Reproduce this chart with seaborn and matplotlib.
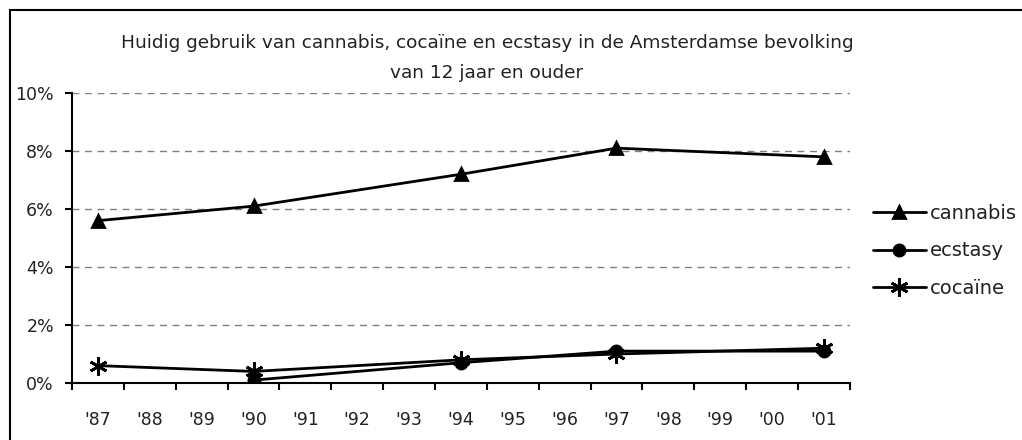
import matplotlib.pyplot as plt
import matplotlib.ticker as ticker
import matplotlib.patches as patches
import numpy as np
import pandas as pd
import seaborn as sns

# Year labels on the category axis
years = ["'87", "'88", "'89", "'90", "'91", "'92", "'93", "'94",
         "'95", "'96", "'97", "'98", "'99", "'00", "'01"]

# Survey years and current use (%)
cannabis_years = ["'87", "'90", "'94", "'97", "'01"]
cannabis = [5.6, 6.1, 7.2, 8.1, 7.8]

ecstasy_years = ["'90", "'94", "'97", "'01"]
ecstasy = [0.1, 0.7, 1.1, 1.1]

cocaine_years = ["'87", "'90", "'94", "'97", "'01"]
cocaine = [0.6, 0.4, 0.8, 1.0, 1.2]

series = [("cannabis", cannabis_years, cannabis, "^", 8),
          ("ecstasy", ecstasy_years, ecstasy, "o", 8),
          ("cocaïne", cocaine_years, cocaine, (6, 2, 0), 13)]

sns.set_style("white")
plt.rcParams["font.family"] = ["DejaVu Sans"]

fig = plt.figure(figsize=(10.22, 4.4), dpi=100)
ax = fig.add_axes([0.0705, 0.1295, 0.761, 0.659])

# outer chart frame
fig.patches.append(patches.Rectangle(
    (10 / 1022, -0.05), 1.1, 0.977 + 0.05, transform=fig.transFigure,
    fill=False, edgecolor="black", linewidth=1.5))

for name, yrs, vals, mk, ms in series:
    d = pd.DataFrame({"pos": [years.index(y) for y in yrs], "value": vals})
    sns.lineplot(data=d, x="pos", y="value", color="black", marker=mk,
                 markersize=ms, markeredgewidth=2, markeredgecolor="black",
                 markerfacecolor="black", linewidth=2, label=name, ax=ax)

ax.set_xlim(-0.5, len(years) - 0.5)
ax.set_ylim(0, 10)

for v in [2, 4, 6, 8, 10]:
    ax.axhline(v, color="#808080", linestyle=(0, (5, 4)), linewidth=1, zorder=0)

ax.xaxis.set_major_locator(ticker.FixedLocator(np.arange(-0.5, len(years), 1)))
ax.xaxis.set_major_formatter(ticker.NullFormatter())
ax.xaxis.set_minor_locator(ticker.FixedLocator(np.arange(len(years))))
ax.xaxis.set_minor_formatter(ticker.FixedFormatter(years))
ax.tick_params(axis="x", which="major", direction="out", length=5, width=1.5,
               bottom=True, color="black")
ax.tick_params(axis="x", which="minor", length=0, pad=20, labelsize=12.5,
               labelcolor="#222222")

ax.set_yticks([0, 2, 4, 6, 8, 10])
ax.yaxis.set_major_formatter(ticker.FuncFormatter(lambda v, p: f"{v:.0f}%"))
ax.tick_params(axis="y", direction="out", length=5, width=1.5, left=True,
               color="black", labelsize=12.5, pad=8, labelcolor="#222222")

for s in ["top", "right"]:
    ax.spines[s].set_visible(False)
for s in ["left", "bottom"]:
    ax.spines[s].set_color("black")
    ax.spines[s].set_linewidth(1.5)

ax.set_xlabel("")
ax.set_ylabel("")

fig.text(487 / 1022, 1 - 43 / 440,
         "Huidig gebruik van cannabis, cocaïne en ecstasy in de Amsterdamse bevolking",
         ha="center", va="center", fontsize=13.3, color="#222222")
fig.text(487 / 1022, 1 - 73 / 440, "van 12 jaar en ouder",
         ha="center", va="center", fontsize=13.3, color="#222222")

handles, labels = ax.get_legend_handles_labels()
ax.legend(handles, labels, loc="center left",
          bbox_to_anchor=(873 / 1022, 1 - 251 / 440),
          bbox_transform=fig.transFigure, frameon=False, fontsize=14,
          handlelength=2.7, handletextpad=0.25, labelspacing=0.95,
          borderaxespad=0, borderpad=0, labelcolor="#222222")

fig.savefig("out.png", dpi=100)
